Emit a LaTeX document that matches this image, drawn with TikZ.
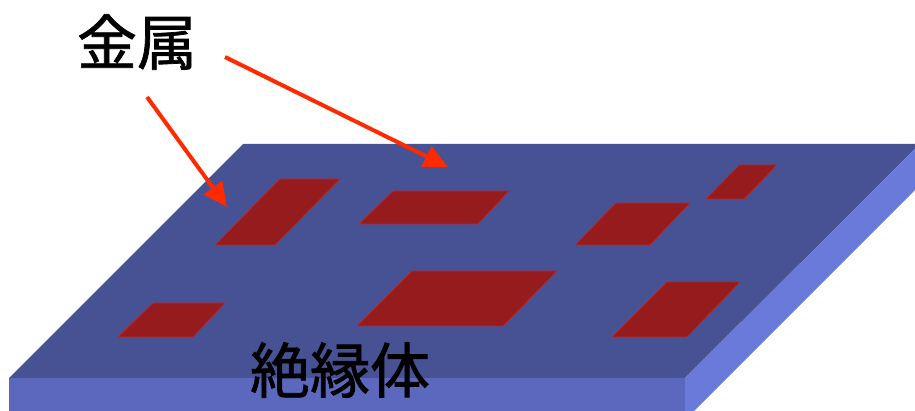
\documentclass[tikz,border=0pt]{standalone}
\usepackage{fontspec}
\newfontfamily\cjk[FakeBold=1.2]{Noto Sans CJK JP}
\usetikzlibrary{arrows.meta}
\definecolor{slabtop}{RGB}{71,82,148}
\definecolor{slabfront}{RGB}{92,104,190}
\definecolor{slabside}{RGB}{106,122,218}
\definecolor{metal}{RGB}{150,27,29}
\definecolor{metaledge}{RGB}{172,42,48}
\definecolor{pointer}{RGB}{255,42,0}
\tikzset{
  patch/.style={fill=metal, draw=metaledge, line width=0.8pt, line join=round},
  pointerarrow/.style={draw=pointer, line width=4pt,
    -{Triangle[length=24pt,width=22pt]}},
  label/.style={font=\cjk\fontsize{60}{60}\selectfont, text=black, inner sep=0pt}
}
\begin{document}
\begin{tikzpicture}[x=1pt,y=-1pt]
  \useasboundingbox (0,0) rectangle (915,411);
  \clip (0,0) rectangle (915,411);
  % insulating slab: top, front and right side faces
  \fill[slabtop] (243,144) -- (920,144) -- (685,378) -- (9,378) -- cycle;
  \fill[slabfront] (9,378) -- (685,378) -- (685,420) -- (9,420) -- cycle;
  \fill[slabside] (920,144) -- (685,378) -- (685,420) -- (940,165) -- (940,144) -- cycle;
  % metal patches on the top face
  \path[patch] (215,245) -- (275,245) -- (340,179) -- (280,179) -- cycle;
  \path[patch] (118,337) -- (193,337) -- (225,303) -- (153,303) -- cycle;
  \path[patch] (359,224) -- (478,224) -- (509,191) -- (393,191) -- cycle;
  \path[patch] (357,326) -- (503,326) -- (557,271) -- (412,271) -- cycle;
  \path[patch] (706,199) -- (744,199) -- (777,165) -- (739,165) -- cycle;
  \path[patch] (575,245) -- (650,245) -- (690,203) -- (616,203) -- cycle;
  \path[patch] (612,337) -- (687,337) -- (740,282) -- (667,282) -- cycle;
  % labels
  \node[label] (metal) at (137,42) {金属};
  \node[label] (insulator) at (340,370) {絶縁体};
  % pointer arrows from the label to two patches
  \coordinate (s1) at (147,97);
  \coordinate (t1) at (227,207);
  \coordinate (s2) at (225,57);
  \coordinate (t2) at (448,167);
  \draw[pointerarrow] (s1) -- (t1);
  \draw[pointerarrow] (s2) -- (t2);
\end{tikzpicture}
\end{document}
